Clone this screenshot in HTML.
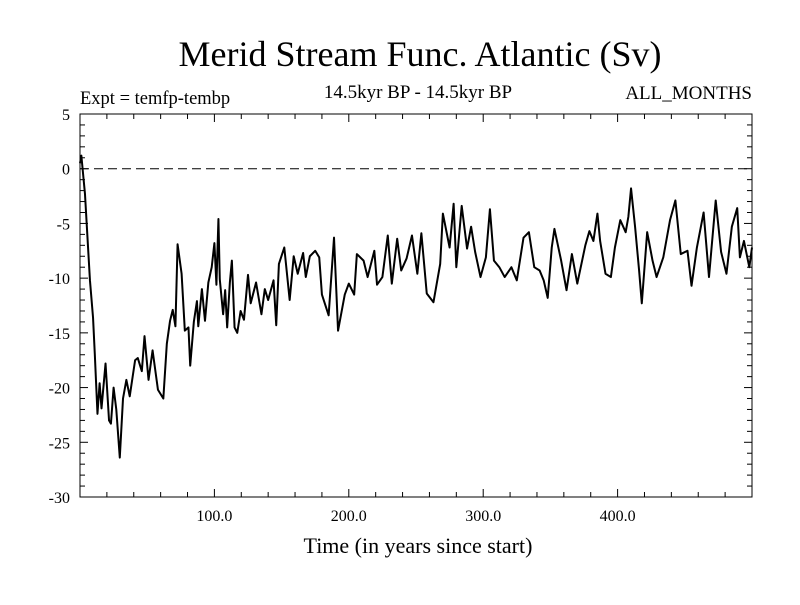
<!DOCTYPE html>
<html><head><meta charset="utf-8"><style>
body{margin:0;background:#fff}
svg text{font-family:"Liberation Serif",serif;fill:#000}
</style></head><body>
<svg id="chart" width="800" height="600">
<rect width="800" height="600" fill="#fff"/>
<text x="420" y="66" font-size="36" text-anchor="middle">Merid Stream Func. Atlantic (Sv)</text>
<text x="80" y="104" font-size="18.5">Expt = temfp-tembp</text>
<text x="418" y="98" font-size="19" text-anchor="middle">14.5kyr BP - 14.5kyr BP</text>
<text x="752" y="99" font-size="19" text-anchor="end">ALL_MONTHS</text>
<text x="418" y="553" font-size="22" text-anchor="middle">Time (in years since start)</text>
<g id="axes"></g>
<g id="series"></g>
<rect x="80" y="114" width="672" height="383" fill="none" stroke="#000" stroke-width="1"/>
</svg>
<script>
const years=[0,1,3.7,7.4,9.7,11,13,14.6,16,19,21.6,23,25,27,29.6,32,34.5,37,41,43,46,48,51,54,58,62,64.6,67,69,71,72.6,75.6,78,80.7,82,84.7,87,88,90.7,93,95.5,98,100,101.5,103,104,106.5,108,109.5,111.5,113,115,117,119.5,122,125,127,131,135,137.5,140,144,146,148,152,156,159,162,166,168,171,175,178,180,185,189,192,197,200,204,206,211,214,219,221,225,229,232,236,239,243,247,251,254,258,263,268,270,275,278,280,284,288,291,294,298,302,305,308,312,316,321,325,330,334,338,342,345,348,351,353,358,362,366,370,376,379,382,385,387,391,395,398,402,406,408,410,413,416,418,422,426,429,434,439,443,447,452,455,459,464,468,473,477,481,485,489,491,494,498,500];
const values=[0.5,1.2,-2.3,-10.2,-13.6,-16.9,-22.4,-19.6,-21.9,-17.8,-23,-23.3,-20,-22,-26.4,-21,-19.3,-20.8,-17.5,-17.3,-18.5,-15.3,-19.3,-16.6,-20.2,-21,-16,-13.9,-12.9,-14.4,-6.9,-9.6,-14.8,-14.5,-18,-14,-12.1,-14.4,-11,-13.9,-10.4,-9,-6.8,-10.6,-4.6,-10.1,-13.3,-11.1,-14.5,-10.4,-8.4,-14.5,-15,-13,-13.8,-9.7,-12.3,-10.4,-13.3,-11,-12,-10.2,-14.3,-8.7,-7.2,-12,-8,-9.6,-7.7,-9.9,-8,-7.5,-8.1,-11.5,-13.4,-6.3,-14.8,-11.5,-10.5,-11.5,-7.8,-8.4,-9.9,-7.5,-10.6,-9.9,-6.1,-10.5,-6.4,-9.3,-8.2,-6.1,-9.6,-5.9,-11.4,-12.2,-8.7,-4.1,-7.2,-3.2,-9,-3.4,-7.3,-5.3,-7.6,-9.9,-8.1,-3.7,-8.4,-9,-9.9,-9,-10.2,-6.3,-5.8,-9,-9.3,-10.2,-11.8,-7.2,-5.5,-8.4,-11.1,-7.8,-10.5,-7,-5.7,-6.6,-4.1,-6.6,-9.6,-9.9,-7.2,-4.7,-5.8,-4.4,-1.8,-5.3,-9.3,-12.3,-5.8,-8.4,-9.9,-8.1,-4.7,-2.9,-7.8,-7.5,-10.7,-7.2,-4,-9.9,-2.9,-7.6,-9.6,-5.3,-3.6,-8.1,-6.6,-9,-7.2];
const yTicks=[5,0,-5,-10,-15,-20,-25,-30];
const xTicks=[100,200,300,400];
const xTickLabels=["100.0","200.0","300.0","400.0"];
const X0=80,X1=752,Y0=114,Y1=497,xmin=0,xmax=500,ymin=-30,ymax=5;
const sx=v=>X0+(v-xmin)/(xmax-xmin)*(X1-X0);
const sy=v=>Y0+(ymax-v)/(ymax-ymin)*(Y1-Y0);
const NS="http://www.w3.org/2000/svg";
const axes=document.getElementById('axes'),series=document.getElementById('series');
function mk(tag,at,parent){const e=document.createElementNS(NS,tag);for(const k in at)e.setAttribute(k,at[k]);parent.appendChild(e);return e;}
for(let v=ymin;v<=ymax;v++){const y=sy(v);const L=(v%5===0)?8:5;
 const a=mk('line',{x1:X0,x2:X0+L,y1:y,y2:y,stroke:'#000'},axes);
 
 
 const b=mk('line',{x1:X1-L,x2:X1,y1:y,y2:y,stroke:'#000'},axes);
 
 }
yTicks.forEach(v=>{const t=mk('text',{x:70,y:sy(v)+6,'font-size':16,'text-anchor':'end'},axes);t.textContent=String(v);
 
 });
for(let v=20;v<xmax;v+=20){const x=sx(v);const L=(v%100===0)?8:5;
 const a=mk('line',{x1:x,x2:x,y1:Y1-L,y2:Y1,stroke:'#000'},axes);
 
 
 const b=mk('line',{x1:x,x2:x,y1:Y0,y2:Y0+L,stroke:'#000'},axes);
 
 }
xTicks.forEach((v,i)=>{const t=mk('text',{x:sx(v),y:521,'font-size':16,'text-anchor':'middle'},axes);t.textContent=xTickLabels[i];
 
 });
const z=mk('line',{x1:X0,x2:X1,y1:sy(0),y2:sy(0),stroke:'#000','stroke-dasharray':'9,5'},axes);


const p=mk('polyline',{points:years.map((t,i)=>sx(t)+','+sy(values[i])).join(' '),fill:'none',stroke:'#000','stroke-width':2,'stroke-linejoin':'round'},series);


</script>
</body></html>
